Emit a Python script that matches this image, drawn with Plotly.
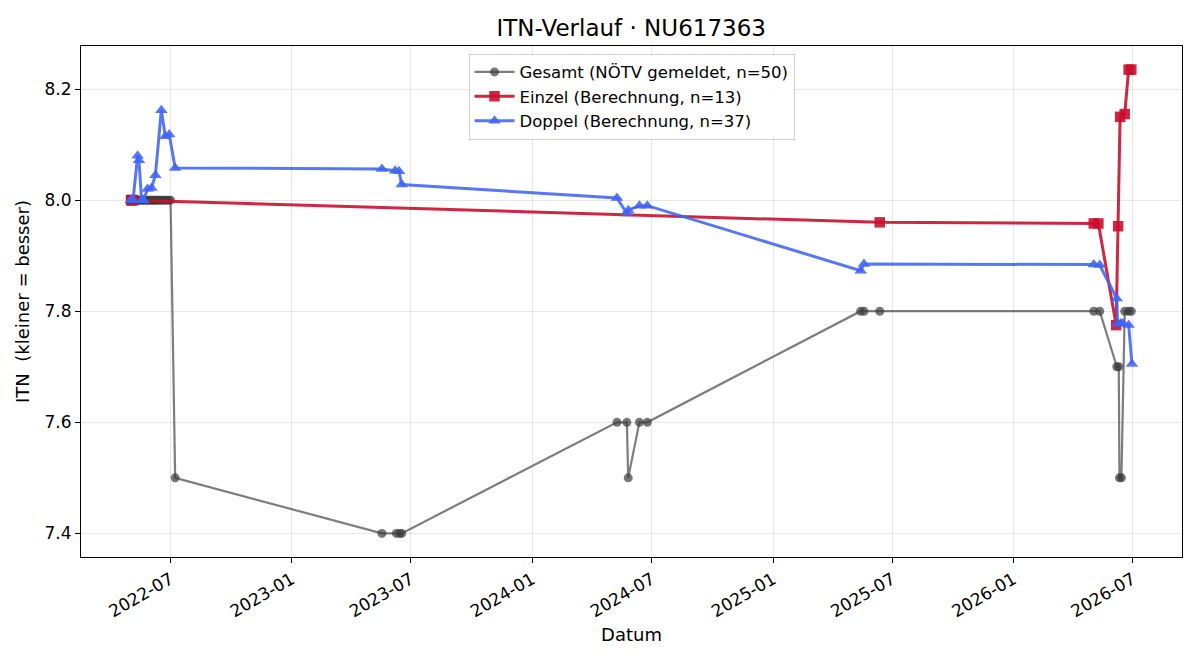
import plotly.graph_objects as go

# ---- Data ----
gesamt_dates = (
    ["2022-05-02", "2022-05-03", "2022-05-05", "2022-05-07", "2022-05-09", "2022-05-12",
     "2022-05-14", "2022-05-15", "2022-05-17", "2022-05-20", "2022-05-21", "2022-05-24",
     "2022-05-27", "2022-05-28", "2022-05-31", "2022-06-02", "2022-06-04", "2022-06-06",
     "2022-06-08", "2022-06-10", "2022-06-13", "2022-06-15", "2022-06-17", "2022-06-20",
     "2022-06-23", "2022-06-25", "2022-06-28", "2022-07-01", "2022-07-08",
     "2023-05-18", "2023-06-09", "2023-06-14", "2023-06-17",
     "2024-05-09", "2024-05-24", "2024-05-26", "2024-06-12", "2024-06-24",
     "2025-05-14", "2025-05-19", "2025-06-12",
     "2026-05-03", "2026-05-12", "2026-06-07", "2026-06-10", "2026-06-11", "2026-06-14",
     "2026-06-19", "2026-06-25", "2026-06-29"]
)
gesamt_vals = (
    [8.0] * 28 + [7.5,
     7.4, 7.4, 7.4, 7.4,
     7.6, 7.6, 7.5, 7.6, 7.6,
     7.8, 7.8, 7.8,
     7.8, 7.8, 7.7, 7.7, 7.5, 7.5, 7.8, 7.8, 7.8]
)

einzel_dates = ["2022-05-02", "2022-05-03", "2022-05-04", "2022-05-05", "2025-06-12",
                "2026-05-03", "2026-05-10", "2026-06-06", "2026-06-09", "2026-06-12",
                "2026-06-19", "2026-06-25", "2026-06-29"]
einzel_vals = [8.0, 8.0, 8.0, 8.0, 7.96,
               7.958, 7.958, 7.775, 7.953, 8.15,
               8.155, 8.235, 8.235]

doppel_dates = ["2022-05-02", "2022-05-02", "2022-05-03", "2022-05-04", "2022-05-05",
                "2022-05-12", "2022-05-14", "2022-05-18", "2022-05-19", "2022-05-20",
                "2022-05-21", "2022-05-27", "2022-06-02", "2022-06-08", "2022-06-17",
                "2022-06-23", "2022-06-29", "2022-07-08",
                "2023-05-18", "2023-06-07", "2023-06-13", "2023-06-17",
                "2024-05-09", "2024-05-24", "2024-05-26", "2024-06-12", "2024-06-24",
                "2025-05-14", "2025-05-19",
                "2026-05-03", "2026-05-12", "2026-06-07", "2026-06-08", "2026-06-13",
                "2026-06-16", "2026-06-25", "2026-06-30"]
doppel_vals = [8.0, 8.0, 8.0, 8.0, 8.0,
               8.08, 8.072, 8.0, 8.0, 8.0,
               8.0, 8.02, 8.022, 8.045, 8.162,
               8.115, 8.118, 8.058,
               8.056, 8.053, 8.052, 8.028,
               8.004, 7.976, 7.982, 7.99, 7.99,
               7.873, 7.885,
               7.884, 7.883, 7.823, 7.778, 7.778,
               7.778, 7.775, 7.705]

y_ticks = [7.4, 7.6, 7.8, 8.0, 8.2]

FONT = "DejaVu Sans"

fig = go.Figure()
fig.add_trace(go.Scatter(
    x=gesamt_dates, y=gesamt_vals, mode="lines+markers",
    name=f"Gesamt (NÖTV gemeldet, n={len(gesamt_vals)})", legendgroup="g",
    line=dict(color="rgba(70,70,70,0.7)", width=2.2),
    marker=dict(symbol="circle", size=9, color="rgba(60,60,60,0.7)"),
))
fig.add_trace(go.Scatter(
    x=einzel_dates, y=einzel_vals, mode="lines+markers",
    name=f"Einzel (Berechnung, n={len(einzel_vals)})", legendgroup="e",
    line=dict(color="rgba(200,16,46,0.9)", width=3),
    marker=dict(symbol="square", size=10.5, color="rgba(200,16,46,0.9)"),
))
fig.add_trace(go.Scatter(
    x=doppel_dates, y=doppel_vals, mode="lines+markers",
    name=f"Doppel (Berechnung, n={len(doppel_vals)})", legendgroup="d",
    line=dict(color="rgba(65,100,245,0.88)", width=3),
    marker=dict(symbol="triangle-up", size=11, color="rgba(65,100,245,0.88)"),
))

fig.update_layout(
    width=1200, height=660,
    margin=dict(l=81, r=18, t=46, b=103),
    paper_bgcolor="white", plot_bgcolor="white",
    font=dict(family=FONT, size=17, color="black"),
    title=dict(text="ITN-Verlauf · NU617363", x=0.526, xanchor="center",
               y=0.958, yanchor="middle", font=dict(family=FONT, size=23)),
    showlegend=True,
    legend=dict(x=0.5, xanchor="center", y=0.985, yanchor="top",
                bgcolor="rgba(255,255,255,0.85)", bordercolor="rgba(0,0,0,0.18)",
                borderwidth=1, font=dict(family=FONT, size=16.5),
                tracegroupgap=0, traceorder="grouped", itemwidth=40),
)
fig.update_xaxes(
    range=["2022-02-15", "2026-09-14"],
    type="date", tick0="2022-07-01", dtick="M6", tickformat="%Y-%m",
    tickangle=-30, ticks="outside", ticklen=5, tickwidth=1, tickcolor="black",
    showline=True, linecolor="black", linewidth=1, mirror=True,
    showgrid=True, gridcolor="rgba(176,176,176,0.3)", gridwidth=1,
    zeroline=False, tickfont=dict(family=FONT, size=17),
    title=dict(text="Datum", font=dict(family=FONT, size=18), standoff=8),
)
fig.update_yaxes(
    range=[7.3575, 8.2775],
    tickvals=y_ticks, tickformat=".1f",
    ticks="outside", ticklen=5, tickwidth=1, tickcolor="black",
    showline=True, linecolor="black", linewidth=1, mirror=True,
    showgrid=True, gridcolor="rgba(176,176,176,0.3)", gridwidth=1,
    zeroline=False, tickfont=dict(family=FONT, size=17),
    title=dict(text="ITN\u00a0 (kleiner = besser)", font=dict(family=FONT, size=18), standoff=10),
)

fig.write_html("out.html")
